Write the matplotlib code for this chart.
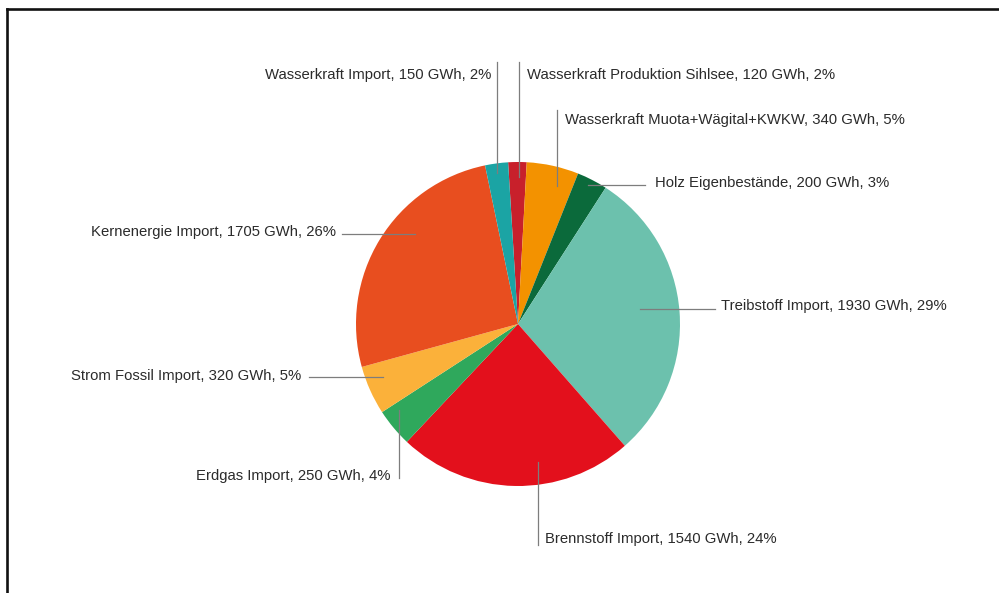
import matplotlib.pyplot as plt
from matplotlib.lines import Line2D

# Energieträger (im Uhrzeigersinn ab oben)
quellen = [
    "Wasserkraft Produktion Sihlsee",
    "Wasserkraft Muota+Wägital+KWKW",
    "Holz Eigenbestände",
    "Treibstoff Import",
    "Brennstoff Import",
    "Erdgas Import",
    "Strom Fossil Import",
    "Kernenergie Import",
    "Wasserkraft Import",
]
gwh = [120, 340, 200, 1930, 1540, 250, 320, 1705, 150]
prozent = [2, 5, 3, 29, 24, 4, 5, 26, 2]
farben = ["#c8202b", "#f39200", "#0b6a3b", "#6cc1ad", "#e3101c",
          "#2fa85c", "#fbb13a", "#e84e1f", "#1ba4a4"]

H = 593  # Bildhöhe in Pixeln, Achsen laufen in Pixeleinheiten

# Beschriftung: Textposition (px), Ausrichtung, Hilfslinie (x0, y0, x1, y1) in px
layout = {
    "Wasserkraft Import": ((491, 75), "right", (497, 62, 497, 173)),
    "Wasserkraft Produktion Sihlsee": ((527, 75), "left", (519, 62, 519, 177)),
    "Wasserkraft Muota+Wägital+KWKW": ((565, 120), "left", (557, 110, 557, 186)),
    "Holz Eigenbestände": ((655, 183), "left", (588, 185, 645, 185)),
    "Kernenergie Import": ((336, 232), "right", (342, 234, 415, 234)),
    "Treibstoff Import": ((721, 306), "left", (640, 309, 715, 309)),
    "Strom Fossil Import": ((301, 376), "right", (309, 377, 383, 377)),
    "Erdgas Import": ((391, 476), "right", (399, 410, 399, 478)),
    "Brennstoff Import": ((545, 539), "left", (538, 462, 538, 545)),
}

plt.rcParams['font.family'] = ['Liberation Sans', 'DejaVu Sans']

fig = plt.figure(figsize=(9.99, 5.93), dpi=100)
ax = fig.add_axes([0, 0, 1, 1])

ax.pie(gwh, colors=farben, startangle=93.5, counterclock=False,
       center=(518, H - 324), radius=162,
       wedgeprops=dict(linewidth=0))

for name, wert, pct in zip(quellen, gwh, prozent):
    (tx, ty), ha, (x0, y0, x1, y1) = layout[name]
    ax.plot([x0, x1], [H - y0, H - y1], color="#7d7d7d", lw=0.9, zorder=3)
    ax.text(tx, H - ty, f"{name}, {wert} GWh, {pct}%", ha=ha, va="center",
            fontsize=10.7, color="#2b2b2b")

ax.set_xlim(0, 999)
ax.set_ylim(0, H)
ax.set_aspect("equal")
ax.axis("off")

# Rahmenlinien oben und links
fig.add_artist(Line2D([7 / 999, 1], [1 - 9 / H, 1 - 9 / H], color="#111111", lw=1.9))
fig.add_artist(Line2D([7 / 999, 7 / 999], [0, 1 - 9 / H], color="#111111", lw=1.9))

fig.savefig("out.png", dpi=100, facecolor="white")
